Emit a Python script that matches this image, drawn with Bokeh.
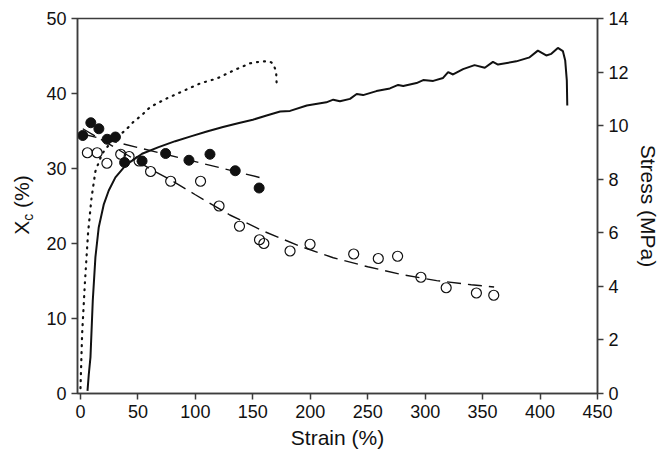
from bokeh.plotting import figure
from bokeh.models import Range1d, LinearAxis, FixedTicker, Div
from bokeh.layouts import row
from bokeh.embed import file_html
from bokeh.resources import INLINE

# ---- data ----
filled_strain = [2.0, 9.0, 16.0, 23.2, 30.4, 38.4, 53.6, 74.1, 94.4, 112.7, 134.7, 155.5]
filled_xc = [34.4, 36.1, 35.3, 33.9, 34.2, 30.8, 31.0, 32.0, 31.1, 31.9, 29.7, 27.4]

open_strain = [6.0, 14.5, 23.0, 35.0, 42.3, 51.0, 61.0, 78.5, 104.5, 120.6, 138.4,
               155.8, 159.6, 182.4, 199.8, 237.8, 259.2, 276.0, 296.3, 318.3, 344.6, 359.7]
open_xc = [32.1, 32.1, 30.7, 31.9, 31.6, 31.0, 29.6, 28.3, 28.3, 25.0, 22.3,
           20.5, 20.0, 19.0, 19.9, 18.6, 18.0, 18.3, 15.5, 14.1, 13.4, 13.1]

filled_fit_strain = [2.0, 156.0]
filled_fit_xc = [34.6, 28.8]

open_fit_strain = [2, 30, 60, 80, 100, 130, 160, 190, 220, 250, 280, 310, 340, 360]
open_fit_xc = [35.3, 32.8, 30.0, 28.35, 26.5, 23.8, 21.6, 19.7, 18.1, 16.9, 15.85, 15.05, 14.5, 14.2]

solid_strain = [6.1, 7.2, 8.7, 10.7, 13.0, 15.9, 20.2, 24.6, 30.4, 39.1, 53.6, 68.0, 82.5,
                96.0, 110.0, 124.0, 138.0, 150.0, 162.0, 173.8, 182.4, 197.0, 214.0, 220.0,
                225.8, 234.6, 240.4, 246.0, 257.6, 269.3, 276.5, 280.9, 292.5, 298.3, 307.0,
                315.6, 320.0, 324.3, 333.0, 343.0, 351.9, 359.0, 363.4, 379.3, 390.9, 398.1,
                405.4, 409.8, 415.5, 419.9, 421.9, 423.3, 423.7]
solid_stress = [0.1, 0.7, 1.36, 3.47, 5.09, 6.21, 7.05, 7.58, 8.07, 8.51, 8.95, 9.2, 9.42,
                9.6, 9.78, 9.95, 10.1, 10.22, 10.38, 10.53, 10.55, 10.75, 10.87, 10.97,
                10.91, 11.0, 11.18, 11.14, 11.29, 11.39, 11.52, 11.48, 11.59, 11.7, 11.67,
                11.78, 12.0, 11.91, 12.11, 12.26, 12.16, 12.38, 12.28, 12.4, 12.55, 12.8,
                12.62, 12.68, 12.9, 12.78, 12.43, 11.68, 10.75]

dotted_strain = [0.0, 1.4, 3.8, 6.6, 9.6, 13.0, 18.8, 27.5, 39.0, 46.3, 53.6, 60.8, 75.3,
                 89.7, 104.3, 118.8, 133.2, 147.7, 158.0, 165.0, 168.0, 170.3, 170.9]
dotted_stress = [0.2, 2.2, 4.1, 6.0, 7.3, 8.3, 8.95, 9.44, 9.82, 10.15, 10.4, 10.7, 11.02,
                 11.3, 11.58, 11.76, 12.06, 12.33, 12.4, 12.39, 12.3, 12.0, 11.4]

x_ticks = [0, 50, 100, 150, 200, 250, 300, 350, 400, 450]
xc_ticks = [0, 10, 20, 30, 40, 50]
stress_ticks = [0, 2, 4, 6, 8, 10, 12, 14]

FONT = "Liberation Sans"
AX = "#3c3c3c"

p = figure(width=624, height=456, x_range=Range1d(-2.6, 450), y_range=Range1d(0, 50),
           output_backend="svg", toolbar_location=None,
           min_border_left=37, min_border_right=67, min_border_top=18, min_border_bottom=63,
           x_axis_label="Strain (%)", margin=(0, 0, 0, 0))
p.extra_y_ranges = {"stress": Range1d(0, 14)}
p.grid.visible = False
p.outline_line_color = AX
p.outline_line_width = 1.5
p.background_fill_color = "white"
p.border_fill_color = "white"

right = LinearAxis(y_range_name="stress", axis_label="Stress (MPa)")
p.add_layout(right, "right")

p.xaxis.ticker = FixedTicker(ticks=x_ticks)
p.yaxis[0].ticker = FixedTicker(ticks=xc_ticks)
right.ticker = FixedTicker(ticks=stress_ticks)

for ax in [p.xaxis[0], p.yaxis[0], right]:
    ax.axis_line_color = AX
    ax.axis_line_width = 1.5
    ax.major_tick_line_color = AX
    ax.major_tick_line_width = 1.5
    ax.major_tick_out = 6
    ax.major_tick_in = 0
    ax.minor_tick_line_color = None
    ax.major_label_text_font = FONT
    ax.major_label_text_font_size = "18px"
    ax.major_label_text_color = "#111111"
    ax.axis_label_text_font = FONT
    ax.axis_label_text_font_size = "21px"
    ax.axis_label_text_font_style = "normal"
    ax.axis_label_text_color = "#111111"
    ax.major_label_standoff = 5
    ax.axis_label_standoff = 5

# stress curves on the right axis
p.line(solid_strain, solid_stress, y_range_name="stress", line_color="#111111", line_width=2)
p.line(dotted_strain, dotted_stress, y_range_name="stress", line_color="#111111",
       line_width=2.2, line_dash="1 6", line_cap="round")

# fitted crystallinity lines
p.line(filled_fit_strain, filled_fit_xc, line_color="#111111", line_width=1.4, line_dash="14 7")
p.line(open_fit_strain, open_fit_xc, line_color="#111111", line_width=1.4, line_dash="14 7")

# data points
p.scatter(filled_strain, filled_xc, marker="circle", size=10, fill_color="#111111",
          line_color="#111111", line_width=1)
p.scatter(open_strain, open_xc, marker="circle", size=10, fill_color=None,
          line_color="#111111", line_width=1.2)

# left axis title with subscript: X_c (%)
title_html = (
    '<div style="position:relative;width:40px;height:456px;">'
    '<div style="position:absolute;left:23px;top:205px;'
    'transform:translate(-50%,-50%) rotate(-90deg);white-space:nowrap;'
    "font-family:'Liberation Sans';font-size:21px;line-height:1;color:#111111;\">"
    'X<sub style="font-size:14px;vertical-align:-0.3em;">c</sub> (%)</div></div>'
)
left_title = Div(text=title_html, width=40, height=456, margin=(0, 0, 0, 0))

layout = row(left_title, p, spacing=0)
open("out.html", "w").write(file_html(layout, INLINE))
